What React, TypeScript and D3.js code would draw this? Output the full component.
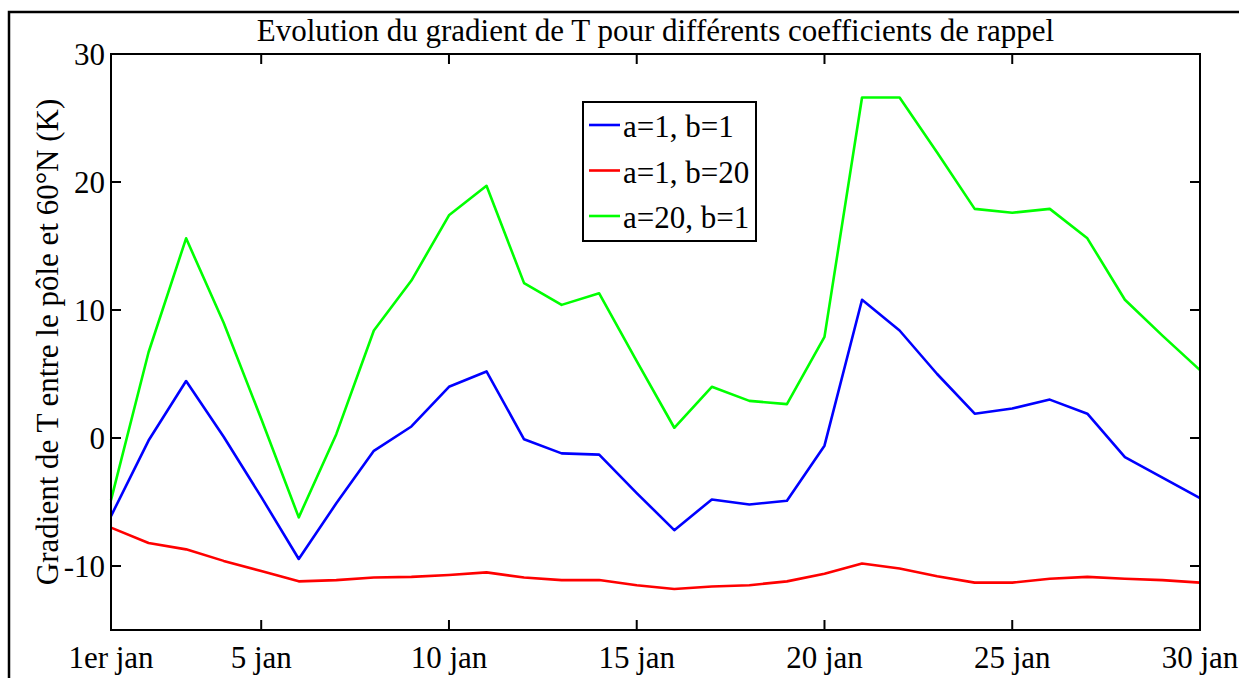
import React from "react";
import * as d3 from "d3";

const days = d3.range(1, 31);
const seriesBlue = [-6.1, -0.2, 4.45, 0.1, -4.6, -9.45, -5.1, -1.0, 0.9, 4.0, 5.2, -0.1, -1.2, -1.3, -4.3, -7.2, -4.8, -5.2, -4.9, -0.6, 10.8, 8.4, 5.0, 1.9, 2.3, 3.0, 1.9, -1.5, -3.1, -4.7];
const seriesRed = [-7.0, -8.2, -8.7, -9.6, -10.4, -11.2, -11.1, -10.9, -10.85, -10.7, -10.5, -10.9, -11.1, -11.1, -11.5, -11.8, -11.6, -11.5, -11.2, -10.6, -9.8, -10.2, -10.8, -11.3, -11.3, -11.0, -10.85, -11.0, -11.1, -11.3];
const seriesGreen = [-4.85, 6.7, 15.6, 9.0, 1.5, -6.2, 0.3, 8.4, 12.3, 17.4, 19.7, 12.1, 10.4, 11.3, 6.0, 0.8, 4.0, 2.9, 2.65, 7.9, 26.6, 26.6, 22.3, 17.9, 17.6, 17.9, 15.6, 10.8, 8.0, 5.3];

const xTicks = [1, 5, 10, 15, 20, 25, 30];
const xTickLabels = ["1er jan", "5 jan", "10 jan", "15 jan", "20 jan", "25 jan", "30 jan"];
const yTicks = [-10, 0, 10, 20, 30];
const legendLabels = ["a=1, b=1", "a=1, b=20", "a=20, b=1"];
const title = "Evolution du gradient de T pour différents coefficients de rappel";
const yLabel = "Gradient de T entre le pôle et 60°N (K)";

const W = 1239, H = 678;
const L = 111, R = 1200, T = 54, B = 630;
const FONT = "'Liberation Serif', 'Times New Roman', 'DejaVu Serif', serif";
const FS = 31;

export default function App() {
  const x = d3.scaleLinear().domain([1, 30]).range([L, R]);
  const y = d3.scaleLinear().domain([-15, 30]).range([B, T]);
  const line = d3.line<number>().x((_, i) => x(days[i])).y((v) => y(v));
  const series = [
    { vals: seriesBlue, color: "#0000ff" },
    { vals: seriesRed, color: "#ff0000" },
    { vals: seriesGreen, color: "#00ff00" },
  ];
  const tickLen = 10;
  return (
    <svg width={W} height={H} style={{ position: "absolute", left: 0, top: 0, background: "#fff" }} fontFamily={FONT}>
      <rect x={0} y={0} width={W} height={H} fill="#fff" />
      <rect x={9} y={12} width={W + 50} height={H + 50} fill="none" stroke="#000" strokeWidth={2.5} />
      <text x={(L + R) / 2} y={41} textAnchor="middle" fontSize={FS}>{title}</text>
      {series.map((s, i) => (
        <path key={i} d={line(s.vals) || ""} fill="none" stroke={s.color} strokeWidth={2.6} strokeLinejoin="round" />
      ))}
      <rect x={L} y={T} width={R - L} height={B - T} fill="none" stroke="#000" strokeWidth={2} />
      {xTicks.map((t, i) => (
        <g key={"x" + t}>
          <line x1={x(t)} x2={x(t)} y1={B} y2={B - tickLen} stroke="#000" strokeWidth={2} />
          <line x1={x(t)} x2={x(t)} y1={T} y2={T + tickLen} stroke="#000" strokeWidth={2} />
          <text x={x(t)} y={668} textAnchor="middle" fontSize={FS}>{xTickLabels[i]}</text>
        </g>
      ))}
      {yTicks.map((t) => (
        <g key={"y" + t}>
          <line x1={L} x2={L + tickLen} y1={y(t)} y2={y(t)} stroke="#000" strokeWidth={2} />
          <line x1={R} x2={R - tickLen} y1={y(t)} y2={y(t)} stroke="#000" strokeWidth={2} />
          <text x={105} y={y(t)} dy="0.35em" textAnchor="end" fontSize={FS}>{t}</text>
        </g>
      ))}
      <text transform={`translate(58,${(T + B) / 2}) rotate(-90)`} textAnchor="middle" fontSize={FS}>{yLabel}</text>
      <g>
        <rect x={583} y={102} width={173} height={139} fill="#fff" stroke="#000" strokeWidth={2} />
        {legendLabels.map((lab, i) => (
          <g key={lab}>
            <line x1={589} x2={620} y1={125 + i * 45.5} y2={125 + i * 45.5} stroke={series[i].color} strokeWidth={2.6} />
            <text x={623} y={125 + i * 45.5} dy="0.4em" fontSize={FS}>{lab}</text>
          </g>
        ))}
      </g>
    </svg>
  );
}
